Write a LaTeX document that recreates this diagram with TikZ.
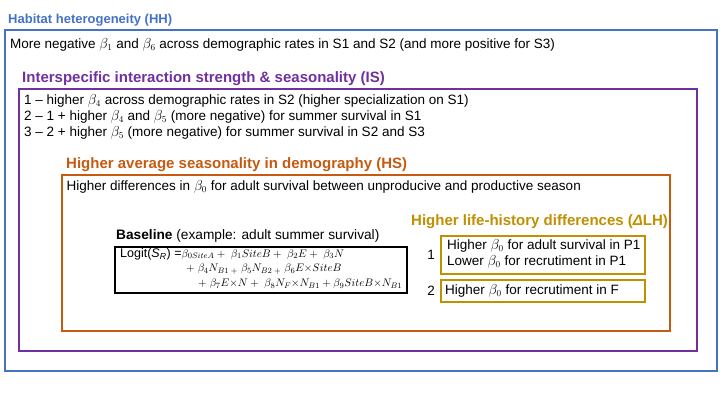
\documentclass[tikz,border=0pt]{standalone}
\usepackage{fontspec}
\setmainfont{Liberation Sans}
\definecolor{hhblue}{RGB}{68,114,196}
\definecolor{ispurple}{RGB}{112,48,160}
\definecolor{hsorange}{RGB}{197,90,17}
\definecolor{lhgold}{RGB}{191,144,0}
\begin{document}
\begin{tikzpicture}[x=1pt,y=-1pt,
  frame/.style={line width=2pt},
  ttl/.style={anchor=west,inner sep=0pt,font=\fontsize{15}{17}\selectfont\bfseries},
  txt/.style={anchor=west,inner sep=0pt,font=\fontsize{13.5}{15}\selectfont},
  frm/.style={anchor=west,inner sep=0pt,font=\fontsize{10.9}{12}\selectfont},
  num/.style={anchor=center,inner sep=0pt,font=\fontsize{13.5}{15}\selectfont}]
\useasboundingbox (0,0) rectangle (720,405);
% frames
\draw[frame,hhblue] (5,30) rectangle (717,371);
\draw[frame,ispurple] (18.5,89) rectangle (697,351);
\draw[frame,hsorange] (62,175) rectangle (670,331);
\draw[frame,black] (115,247) rectangle (407,293);
\draw[frame,lhgold] (441,236) rectangle (645,274);
\draw[frame,lhgold] (441,280) rectangle (645,302);
% HH
\node[ttl,text=hhblue,font=\fontsize{13}{15}\selectfont\bfseries] (hhT) at (8,20) {Habitat heterogeneity (HH)};
\node[txt] (hh1) at (10,44.5) {More negative $\beta_1$ and $\beta_6$ across demographic rates in S1 and S2 (and more positive for S3)};
% IS
\node[ttl,text=ispurple] (isT) at (22,79) {Interspecific interaction strength \& seasonality (IS)};
\node[txt] (is1) at (24,100.5) {1 -- higher $\beta_4$ across demographic rates in S2 (higher specialization on S1)};
\node[txt] (is2) at (24,116.5) {2 -- 1 + higher $\beta_4$ and $\beta_5$ (more negative) for summer survival in S1};
\node[txt] (is3) at (24,132.5) {3 -- 2 + higher $\beta_5$ (more negative) for summer survival in S2 and S3};
% HS
\node[ttl,text=hsorange] (hsT) at (66,165) {Higher average seasonality in demography (HS)};
\node[txt] (hs1) at (66.5,187) {Higher differences in $\beta_0$ for adult survival between unproducive and productive season};
% Baseline
\node[txt,font=\fontsize{13.7}{15}\selectfont] (blT) at (116,236) {\textbf{Baseline} (example: adult summer survival)};
\node[frm] (f1) at (120,254) {{\fontsize{12.5}{14}\selectfont Logit(\textit{S\textsubscript{R}}) =}$\beta_{0SiteA}+\;\beta_1 SiteB+\;\beta_2E+\;\beta_3N$};
\node[frm] (f2) at (186,269) {$+\;\beta_4N_{B1}\,{}_{+}\;\beta_5N_{B2}\,{}_{+}\;\beta_6E{\times}SiteB$};
\node[frm] (f3) at (198,284) {$+\;\beta_7E{\times}N+\;\beta_8N_F{\times}N_{B1}+\beta_9SiteB{\times}N_{B1}$};
% LH
\node[ttl,text=lhgold] (lhT) at (411,222) {Higher life-history differences ({\itshape Δ}LH)};
\node[num] (n1) at (431,255) {1};
\node[num] (n2) at (431,291) {2};
\node[txt] (lh1) at (447,246) {Higher $\beta_0$ for adult survival in P1};
\node[txt] (lh2) at (447,262) {Lower $\beta_0$ for recrutiment in P1};
\node[txt] (lh3) at (445,291) {Higher $\beta_0$ for recrutiment in F};
\end{tikzpicture}
\end{document}
